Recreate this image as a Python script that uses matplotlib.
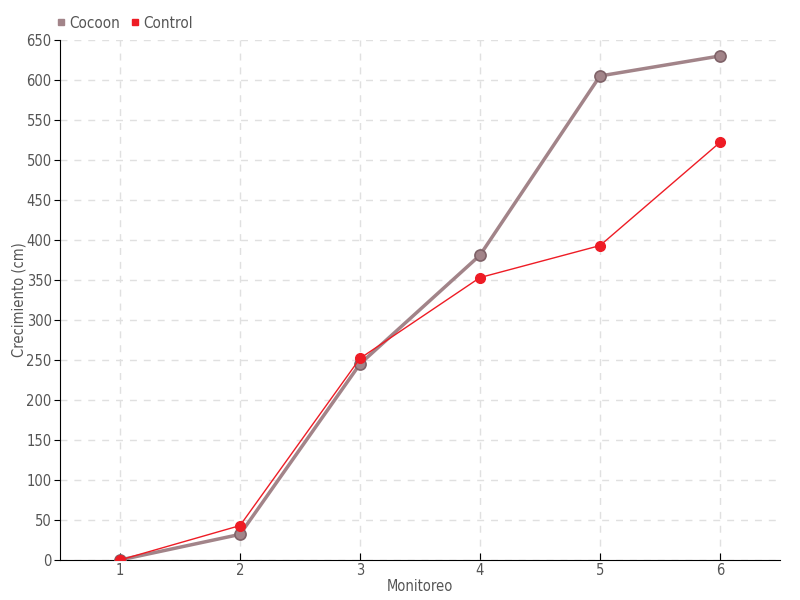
import matplotlib
matplotlib.use("Agg")
import matplotlib.pyplot as plt
from matplotlib.lines import Line2D

monitoreo = [1, 2, 3, 4, 5, 6]
cocoon    = [0, 32, 245, 381, 605, 630]
control   = [0, 43, 252, 353, 393, 522]

plt.rcParams["font.family"] = ["DejaVu Sans"]
plt.rcParams["font.stretch"] = "condensed"

COCOON_C = "#a28489"
COCOON_E = "#7f6268"
CONTROL_C = "#ee1c25"
TXT = "#555555"
FS = 10.5

fig = plt.figure(figsize=(8, 6), dpi=100)
ax = fig.add_axes([0.075, 0.0667, 0.9, 0.8667])

ax.plot(monitoreo, cocoon, color=COCOON_C, lw=2.5, marker="o", ms=8,
        mfc=COCOON_C, mec=COCOON_E, mew=1.2, zorder=3)
ax.plot(monitoreo, control, color=CONTROL_C, lw=1, marker="o", ms=7,
        mfc=CONTROL_C, mec=CONTROL_C, zorder=4)

ax.set_xlim(0.5, 6.5)
ax.set_ylim(0, 650)
ax.set_xticks(monitoreo)
ax.set_yticks(range(0, 651, 50))
ax.grid(True, color="#e0e0e0", linestyle=(0, (5, 5)), lw=1)
ax.set_axisbelow(True)

for s in ["top", "right"]:
    ax.spines[s].set_visible(False)
ax.spines["left"].set_color("black")
ax.spines["bottom"].set_color("black")
ax.tick_params(axis="both", colors=TXT, labelsize=FS, length=4, pad=2)
ax.tick_params(axis="x", direction="in", length=5, color="black")
ax.tick_params(axis="y", color="black")

ax.set_xlabel("Monitoreo", color=TXT, fontsize=FS, labelpad=1)
ax.set_ylabel("Crecimiento (cm)", color=TXT, fontsize=FS)
ax.yaxis.set_label_coords(-0.046, 0.5)

handles = [
    Line2D([], [], ls="", marker="s", ms=5, color=COCOON_C, label="Cocoon"),
    Line2D([], [], ls="", marker="s", ms=5, color=CONTROL_C, label="Control"),
]
fig.legend(handles=handles, loc="upper left", bbox_to_anchor=(0.052, 0.997),
           ncol=2, frameon=False, handletextpad=0.1, columnspacing=0.6,
           handlelength=0.8, fontsize=FS + 0.5, labelcolor=TXT)

fig.savefig("out.png", dpi=100)
